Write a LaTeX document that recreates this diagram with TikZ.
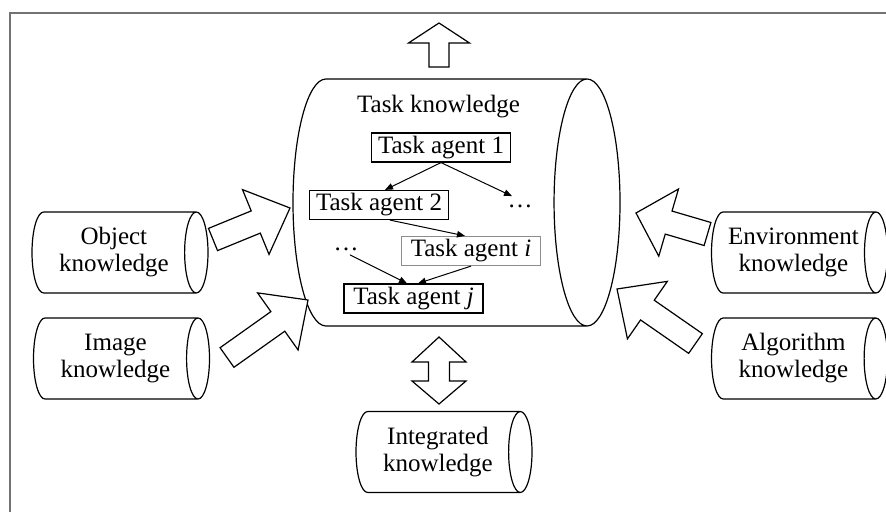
\documentclass[tikz,border=0pt]{standalone}
\usepackage{fontspec}
\setmainfont{Liberation Serif}
\usetikzlibrary{arrows.meta,calc,shapes.geometric}
\newcommand{\kfont}{\fontsize{12.5}{13.5}\selectfont}
% hollow block arrow: tail, tip, shaft half width, head half width, head length
\newcommand{\fatarrow}[5]{%
  \coordinate (fa h) at ($(#2)!#5!(#1)$);
  \draw[fatline] ($(#1)!#3!90:(#2)$) -- ($(fa h)!#3!90:(#2)$) -- ($(fa h)!#4!90:(#2)$) -- (#2)
    -- ($(fa h)!#4!-90:(#2)$) -- ($(fa h)!#3!-90:(#2)$) -- ($(#1)!#3!-90:(#2)$) -- cycle;}
\tikzset{
  store/.style={cylinder, draw, line width=0.6pt, aspect=0.47, minimum width=40.5pt, minimum height=88pt, inner sep=0pt, align=center, anchor=shape center, font=\kfont},
  taskdb/.style={cylinder, draw, line width=0.6pt, aspect=0.267, minimum width=123.5pt, minimum height=163.5pt, inner sep=0pt, anchor=shape center},
  agent/.style={draw, line width=0.6pt, minimum width=69.5pt, minimum height=14.5pt, inner sep=1pt, font=\kfont},
  dimagent/.style={agent, draw=black!45},
  dots/.style={inner sep=1pt, font=\kfont},
  arrow/.style={-{Triangle[length=4pt,width=3.2pt]}, line width=0.5pt},
  fatline/.style={draw, line width=0.6pt, line join=miter, fill=white},
  frame/.style={draw=black!55, line width=0.9pt}
}
\begin{document}
\begin{tikzpicture}[x=0.5pt, y=-0.5pt]
  \useasboundingbox (0,0) rectangle (886,512);
  \draw[frame] (10,512) |- (886,13);
  % knowledge stores
  \node[taskdb] (task) at (456.5,202.5) {\rule{0pt}{123.5pt}};
  \node[store] (obj) at (120,252.5) {Object\\knowledge};
  \node[store] (img) at (121.5,358.5) {Image\\knowledge};
  \node[store] (env) at (799.5,252.5) {Environment\\knowledge};
  \node[store] (alg) at (799.5,358.5) {Algorithm\\knowledge};
  \node[store] (intg) at (444,452) {Integrated\\knowledge};
  % task agents
  \node[font=\kfont] (tasktitle) at (438.5,107) {Task knowledge};
  \node[agent] (a1) at (441,147.5) {Task agent 1};
  \node[agent] (a2) at (379,205) {Task agent 2};
  \node[dimagent] (ai) at (471,251) {Task agent \textit{i}};
  \node[agent] (aj) at (413.5,298.5) {Task agent \textit{j}};
  \node[dots] (dr) at (520,206) {…};
  \node[dots] (dl) at (346,249) {…};
  \draw[arrow] (a1.south) -- ([xshift=3pt]a2.north);
  \draw[arrow] (a1.south) -- ([xshift=-4pt,yshift=3pt]dr.north);
  \draw[arrow] ([xshift=5.5pt]a2.south) -- ([xshift=-3pt]ai.north);
  \draw[arrow] ([xshift=2pt,yshift=-1pt]dl.south) -- ([xshift=-3.25pt]aj.north);
  \draw[arrow] (ai.south) -- ([xshift=2.25pt]aj.north);
  % block arrows
  \coordinate (up tail) at (439,67);
  \coordinate (up tip) at (439,23);
  \fatarrow{up tail}{up tip}{5pt}{15.25pt}{10pt}
  \coordinate (obj tail) at (213,239.5);
  \coordinate (obj tip) at (290,208);
  \fatarrow{obj tail}{obj tip}{6pt}{17.5pt}{18.5pt}
  \coordinate (img tail) at (227,357.5);
  \coordinate (img tip) at (308,300);
  \fatarrow{img tail}{img tip}{6pt}{17.5pt}{18.5pt}
  \coordinate (env tail) at (707.5,234);
  \coordinate (env tip) at (636,213);
  \fatarrow{env tail}{env tip}{6pt}{17.5pt}{17pt}
  \coordinate (alg tail) at (695.5,343.5);
  \coordinate (alg tip) at (617,289);
  \fatarrow{alg tail}{alg tip}{6pt}{17.5pt}{18.5pt}
  % two-way arrow to integrated knowledge
  \coordinate (two top) at (439,337);
  \draw[fatline] (two top) -- ++(27,25) -- ++(-16.5,0) -- ++(0,19) -- ++(16.5,0)
    -- (439,404) -- ++(-27,-23) -- ++(16.5,0) -- ++(0,-19) -- ++(-16.5,0) -- cycle;
\end{tikzpicture}
\end{document}
